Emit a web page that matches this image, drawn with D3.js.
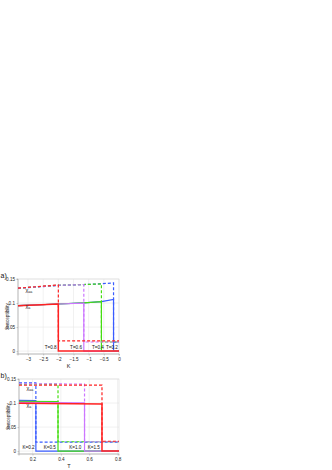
<!DOCTYPE html>
<html><head><meta charset="utf-8">
<script src="https://cdn.jsdelivr.net/npm/d3@7/dist/d3.min.js"></script>
<style>body{margin:0;background:#fff}svg{display:block}text{font-family:"Liberation Sans",Arial,sans-serif}</style>
</head><body>
<script>
// ---------- data ----------
const colors = ["#3a5cff", "#44dd11", "#cc77ff", "#ff2222"];
// panel a: x = K, one curve per T
const aLabels = ["T=0.2", "T=0.4", "T=0.6", "T=0.8"];
const aCrit = [-0.18, -0.58, -1.16, -2.0];
const aUpperK = [[-3.33, -2.0, -1.16, -0.58, -0.18], [-3.33, -2.0, -1.16, -0.58], [-3.33, -2.0, -1.16], [-3.33, -2.0]];
const aUpperV = [[0.1305, 0.1365, 0.1385, 0.1400, 0.1420], [0.1310, 0.1370, 0.1385, 0.1398], [0.1310, 0.1370, 0.1382], [0.1310, 0.1375]];
const aLowerV = [0.0185, 0.0190, 0.0190, 0.0215];
const aSolidK = [[-3.33, -2.0, -1.16, -0.58, -0.18], [-3.33, -2.0, -1.16, -0.58], [-3.33, -2.0, -1.16], [-3.33, -2.0]];
const aSolidV = [[0.0945, 0.0980, 0.1005, 0.1030, 0.1075], [0.0945, 0.0980, 0.1005, 0.1030], [0.0945, 0.0980, 0.1000], [0.0945, 0.0980]];
const aXTicks = [-3, -2.5, -2, -1.5, -1, -0.5, 0];
// panel b: x = T, one curve per K
const bLabels = ["K=0.2", "K=0.5", "K=1.0", "K=1.5"];
const bCrit = [0.224, 0.38, 0.567, 0.69];
const bUpperV = [[0.1420, 0.1420], [0.1390, 0.1392], [0.1400, 0.1395], [0.1370, 0.1372]];
const bLowerV = [0.0185, 0.0195, 0.0195, 0.0205];
const bSolidV = [[0.1055, 0.1050], [0.1035, 0.1030], [0.1015, 0.1005], [0.0995, 0.0980]];
const bXTicks = [0.2, 0.4, 0.6, 0.8];
const yTicks = [0, 0.05, 0.1, 0.15];
const yTickLabels = ["0", "0.05", "0.1", "0.15"];

const svg = d3.select("body").append("svg").attr("width", 332).attr("height", 470);

function panel(opt) {
  const x = d3.scaleLinear().domain(opt.xDomain).range([opt.left, opt.right]);
  const y = d3.scaleLinear().domain([-0.006, 0.15]).range([opt.bottom, opt.top]);
  const g = svg.append("g");
  // grid
  g.selectAll(".vg").data(opt.xTicks).join("line")
    .attr("x1", d => x(d)).attr("x2", d => x(d)).attr("y1", opt.top).attr("y2", opt.bottom)
    .attr("stroke", "#e8e8e8").attr("stroke-width", 0.6);
  g.selectAll(".hg").data(yTicks).join("line")
    .attr("x1", opt.left).attr("x2", opt.right).attr("y1", d => y(d)).attr("y2", d => y(d))
    .attr("stroke", "#e8e8e8").attr("stroke-width", 0.6);
  g.append("rect").attr("x", opt.left).attr("y", opt.top).attr("width", opt.right - opt.left)
    .attr("height", opt.bottom - opt.top).attr("fill", "none").attr("stroke", "#dadada").attr("stroke-width", 0.6);
  // axes
  const xa = g.append("g").attr("transform", `translate(0,${opt.bottom})`)
    .call(d3.axisBottom(x).tickValues(opt.xTicks).tickSize(1.5).tickPadding(2).tickFormat(d3.format("")));
  const ya = g.append("g").attr("transform", `translate(${opt.left},0)`)
    .call(d3.axisLeft(y).tickValues(yTicks).tickSize(1.5).tickPadding(1.5).tickFormat((d, i) => yTickLabels[i]));
  [xa, ya].forEach(a => {
    a.select(".domain").attr("stroke", "#9a9a9a").attr("stroke-width", 0.6);
    a.selectAll(".tick line").attr("stroke", "#9a9a9a").attr("stroke-width", 0.5);
    a.selectAll("text").attr("font-size", 4.6).attr("fill", "#222").attr("font-family", "Liberation Sans, Arial, sans-serif");
  });
  ya.select(".domain").attr("d", `M-1.5,${opt.bottom}H0V${opt.top}H-1.5`);
  xa.select(".domain").attr("d", `M${opt.left},1.5V0H${opt.right}V1.5`);

  const line = d3.line().x(d => x(d[0])).y(d => y(d[1]));
  const xEnd = opt.xDomain[1];
  for (let i = 0; i < 4; i++) {
    const up = opt.upperX[i].map((k, j) => [k, opt.upperV[i][j]]);
    up.push([opt.crit[i], opt.lowerV[i]], [xEnd, opt.lowerV[i]]);
    g.append("path").attr("d", line(up)).attr("fill", "none").attr("stroke", colors[i])
      .attr("stroke-width", 1.2).attr("stroke-dasharray", "3,2");
    const so = opt.solidX[i].map((k, j) => [k, opt.solidV[i][j]]);
    so.push([opt.crit[i], 0], [xEnd, 0]);
    g.append("path").attr("d", line(so)).attr("fill", "none").attr("stroke", colors[i])
      .attr("stroke-width", i === 3 ? 1.5 : 1.2);
  }
  // curve labels
  g.selectAll(".cl").data(opt.labels).join("text")
    .attr("x", (d, i) => x(opt.labelX[i])).attr("y", y(0) - 2.2)
    .attr("text-anchor", "end").attr("font-size", 4.6).attr("fill", "#111").text(d => d);
  // chi labels
  const chi = (tx, ty, sub) => {
    const t = g.append("text").attr("x", tx).attr("y", ty).attr("font-size", 5.2).attr("fill", "#222");
    t.append("tspan").text("χ");
    t.append("tspan").attr("font-size", 3.6).attr("dy", 1.3).text(sub);
  };
  chi(opt.left + 7.5, opt.chiY[0], "aa");
  chi(opt.left + 7.5, opt.chiY[1], "a");
  // axis titles
  g.append("text").attr("x", (opt.left + opt.right) / 2).attr("y", opt.bottom + 13.5)
    .attr("text-anchor", "middle").attr("font-size", 5.5).attr("fill", "#222").text(opt.xTitle);
  g.append("text").attr("transform", `translate(${opt.left - 9.5},${(opt.top + opt.bottom) / 2}) rotate(-90)`)
    .attr("text-anchor", "middle").attr("font-size", 4.6).attr("fill", "#222").text("Susceptibility");
  g.append("text").attr("x", 0.5).attr("y", opt.top - 1.5).attr("font-size", 7).attr("fill", "#111").text(opt.tag);
}

panel({
  xDomain: [-3.33, 0], left: 18, right: 119, top: 279, bottom: 354,
  xTicks: aXTicks, crit: aCrit, upperX: aUpperK, upperV: aUpperV, lowerV: aLowerV,
  solidX: aSolidK, solidV: aSolidV, labels: aLabels, labelX: [-0.18 + 0.14, -0.58 + 0.08, -1.16 - 0.06, -2.0 - 0.06],
  chiY: [292, 308], xTitle: "K", tag: "a)"
});
panel({
  xDomain: [0.105, 0.81], left: 19, right: 119, top: 379, bottom: 454,
  xTicks: bXTicks, crit: bCrit,
  upperX: bCrit.map(c => [0.105, c]), upperV: bUpperV, lowerV: bLowerV,
  solidX: bCrit.map(c => [0.105, c]), solidV: bSolidV, labels: bLabels,
  labelX: [0.215, 0.365, 0.545, 0.675],
  chiY: [390, 407], xTitle: "T", tag: "b)"
});
</script>
</body></html>
